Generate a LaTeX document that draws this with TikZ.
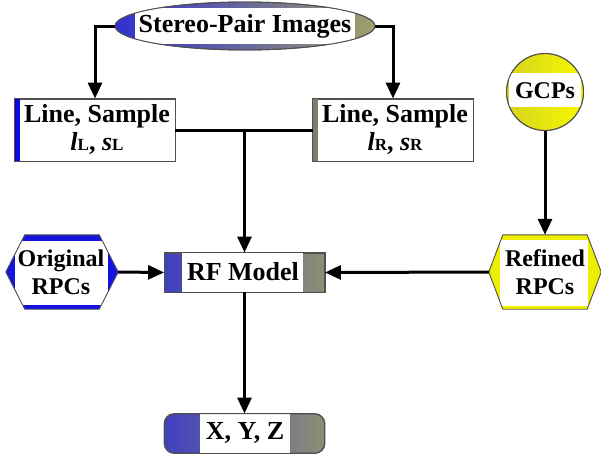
\documentclass[tikz,border=0pt]{standalone}
\usepackage{fontspec}
\setmainfont{Liberation Serif}
\usetikzlibrary{shapes.geometric,arrows.meta,calc}
\definecolor{sblue}{HTML}{3030D0}
\definecolor{solive}{HTML}{A0A068}
\definecolor{stripeblue}{HTML}{0A0AE0}
\definecolor{stripegray}{HTML}{7E7E70}
\definecolor{rfblue}{HTML}{4040C0}
\definecolor{rfgray}{HTML}{8E8E74}
\definecolor{hexblue}{HTML}{1414DC}
\definecolor{hexyel}{HTML}{EEEE00}
\definecolor{ydark}{HTML}{D4D420}
\definecolor{ybright}{HTML}{F8F800}
\definecolor{edgecol}{HTML}{505050}
\newcommand{\smallsub}[1]{{\fontsize{17}{17}\selectfont #1}}
\begin{document}
\begin{tikzpicture}[x=1pt,y=-1pt,
  lbl/.style={font=\fontsize{26}{28}\selectfont\bfseries, align=center, inner sep=0},
  hlbl/.style={font=\fontsize{24}{28}\selectfont\bfseries, align=center, inner sep=0},
  shapebox/.style={draw=edgecol, line width=0.9pt, inner sep=0},
  outline/.style={draw=edgecol, line width=0.9pt},
  conn/.style={line width=3pt, -{Triangle[length=16pt,width=14pt]}},
  link/.style={line width=3pt}]
\useasboundingbox (0,0) rectangle (601,455);

% Stereo-Pair Images ellipse
\node[shapebox, ellipse, minimum width=260pt, minimum height=48pt,
      left color=sblue, right color=solive] (stereo) at (245,26) {};
\begin{scope}
  \clip (245,26) ellipse (130pt and 24pt);
  \fill[white] (135,8) rectangle (355,44);
\end{scope}
\draw[outline] (245,26) ellipse (130pt and 24pt);
\node[lbl] (stereotxt) at (245,26) {Stereo-Pair Images};

% Left Line, Sample box
\node[shapebox, fill=white, minimum width=160pt, minimum height=62pt] (lboxL) at (95,130) {};
\fill[stripeblue] (lboxL.north west) rectangle ([xshift=5pt]lboxL.south west);
\draw[outline] (lboxL.north west) rectangle (lboxL.south east);
\node[lbl] (lboxLtxt) at (97,129) {Line, Sample\\\textit{l}\smallsub{L}, \textit{s}\smallsub{L}};

% Right Line, Sample box
\node[shapebox, fill=white, minimum width=160pt, minimum height=62pt] (lboxR) at (393,130) {};
\fill[stripegray] (lboxR.north west) rectangle ([xshift=5pt]lboxR.south west);
\draw[outline] (lboxR.north west) rectangle (lboxR.south east);
\node[lbl] (lboxRtxt) at (395,129) {Line, Sample\\\textit{l}\smallsub{R}, \textit{s}\smallsub{R}};

% GCPs circle
\node[shapebox, circle, minimum size=77pt, left color=ydark, right color=ybright] (gcp) at (545,92) {};
\begin{scope}
  \clip (545,92) circle (38.5pt);
  \fill[white] (509,73) rectangle (581,107);
\end{scope}
\draw[outline] (545,92) circle (38.5pt);
\node[hlbl] (gcptxt) at (545,91) {GCPs};

% Original RPCs hexagon
\node[inner sep=0, minimum width=112pt, minimum height=74pt] (orig) at (62,272) {};
\fill[hexblue] (orig.west) -- ([xshift=19pt]orig.north west) -- ([xshift=-19pt]orig.north east)
  -- (orig.east) -- ([xshift=-19pt]orig.south east) -- ([xshift=19pt]orig.south west) -- cycle;
\begin{scope}
  \clip (orig.west) -- ([xshift=19pt]orig.north west) -- ([xshift=-19pt]orig.north east)
  -- (orig.east) -- ([xshift=-19pt]orig.south east) -- ([xshift=19pt]orig.south west) -- cycle;
  \fill[white] (15,241) rectangle (108,305);
\end{scope}
\draw[outline] (orig.west) -- ([xshift=19pt]orig.north west) -- ([xshift=-19pt]orig.north east)
  -- (orig.east) -- ([xshift=-19pt]orig.south east) -- ([xshift=19pt]orig.south west) -- cycle;
\node[hlbl] (origtxt) at (61,272) {Original\\RPCs};

% Refined RPCs hexagon
\node[inner sep=0, minimum width=112pt, minimum height=74pt] (refd) at (545,272) {};
\fill[hexyel] (refd.west) -- ([xshift=14pt]refd.north west) -- ([xshift=-14pt]refd.north east)
  -- (refd.east) -- ([xshift=-14pt]refd.south east) -- ([xshift=14pt]refd.south west) -- cycle;
\begin{scope}
  \clip (refd.west) -- ([xshift=14pt]refd.north west) -- ([xshift=-14pt]refd.north east)
  -- (refd.east) -- ([xshift=-14pt]refd.south east) -- ([xshift=14pt]refd.south west) -- cycle;
  \fill[white] (500,240) rectangle (588,306);
\end{scope}
\draw[outline] (refd.west) -- ([xshift=14pt]refd.north west) -- ([xshift=-14pt]refd.north east)
  -- (refd.east) -- ([xshift=-14pt]refd.south east) -- ([xshift=14pt]refd.south west) -- cycle;
\node[hlbl] (refdtxt) at (545,272) {Refined\\RPCs};

% RF Model box
\node[shapebox, minimum width=160pt, minimum height=39pt, left color=rfblue, right color=rfgray] (rf) at (244.5,272.5) {};
\fill[white] (182,253) rectangle (303,292);
\draw[outline] (rf.north west) rectangle (rf.south east);
\node[lbl] (rftxt) at (243,272) {RF Model};

% X, Y, Z rounded box
\node[shapebox, rounded corners=10pt, minimum width=160pt, minimum height=39pt, left color=rfblue, right color=rfgray] (xyz) at (244.5,433.5) {};
\begin{scope}
  \clip[rounded corners=10pt] (xyz.north west) rectangle (xyz.south east);
  \fill[white] (200,414) rectangle (290,453);
\end{scope}
\draw[outline, rounded corners=10pt] (xyz.north west) rectangle (xyz.south east);
\node[lbl] (xyztxt) at (245,433) {X, Y, Z};

% Connectors
\draw[conn] (stereo.west) -| (lboxL.north);
\draw[conn] (stereo.east) -| (lboxR.north);
\draw[link] (lboxL.east) -- (lboxR.west);
\draw[conn] (lboxL.east -| rf.north) -- (rf.north);
\draw[conn] (orig.east) -- (rf.west);
\draw[conn] (gcp.south) -- (refd.north);
\draw[conn] (refd.west) -- (rf.east);
\draw[conn] (rf.south) -- (xyz.north);
\end{tikzpicture}
\end{document}
